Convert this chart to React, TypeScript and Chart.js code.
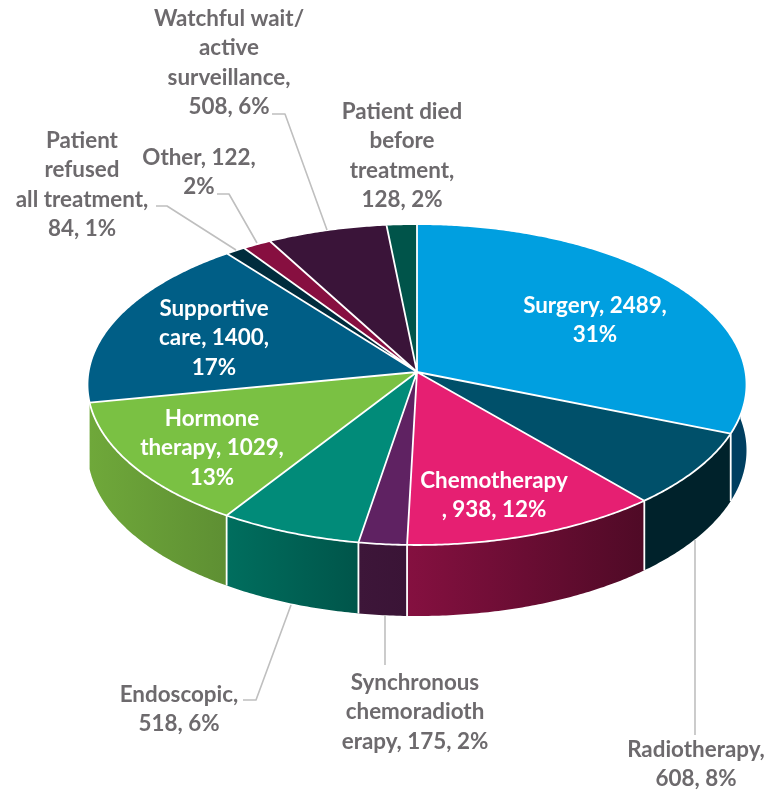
import { useEffect, useRef } from "react";
import { Chart, registerables } from "chart.js";

Chart.register(...registerables);

const categories = ["Surgery", "Radiotherapy", "Chemotherapy", "Synchronous chemoradiotherapy", "Endoscopic", "Hormone therapy", "Supportive care", "Patient refused all treatment", "Other", "Watchful wait/ active surveillance", "Patient died before treatment"];
const values = [2489, 608, 938, 175, 518, 1029, 1400, 84, 122, 508, 128];
const topColors = ["#009fe0", "#00506a", "#e61f72", "#5f2262", "#018b79", "#7ac143", "#005e86", "#002c3d", "#870f40", "#3a1439", "#00544a"];
const wallStart = ["#003f60", "#00222b", "#851040", "#3d1639", "#006e5e", "#6fa83a", "#003a55", "#001a24", "#5a0a2a", "#260d26", "#003a32"];
const wallEnd = ["#003f60", "#00222b", "#4f0a26", "#3a1436", "#00554a", "#5e8f33", "#003a55", "#001a24", "#5a0a2a", "#260d26", "#003a32"];

const labelLines = [
  ["Surgery, 2489,", "31%"],
  ["Radiotherapy,", "608, 8%"],
  ["Chemotherapy", ", 938, 12%"],
  ["Synchronous", "chemoradioth", "erapy, 175, 2%"],
  ["Endoscopic,", "518, 6%"],
  ["Hormone", "therapy, 1029,", "13%"],
  ["Supportive", "care, 1400,", "17%"],
  ["Patient", "refused", "all treatment,", "84, 1%"],
  ["Other, 122,", "2%"],
  ["Watchful wait/", "active", "surveillance,", "508, 6%"],
  ["Patient died", "before", "treatment,", "128, 2%"],
];
const labelX = [595, 696, 494, 415, 179, 212, 214, 82, 199, 229, 402];
const labelY = [306, 750, 481, 683, 695, 419, 309, 141, 158, 19, 112];
const labelColor = ["#ffffff", "#6d6a6d", "#ffffff", "#6d6a6d", "#6d6a6d", "#ffffff", "#ffffff", "#6d6a6d", "#6d6a6d", "#6d6a6d", "#6d6a6d"];
const leaderLines: number[][][] = [
  [[695, 540], [695, 735]],
  [[385, 615], [385, 665]],
  [[243, 700], [256, 700], [291, 605]],
  [[156, 206], [167, 206], [236, 250]],
  [[217, 194], [229, 194], [257, 243]],
  [[272, 114], [285, 114], [327, 230]],
];

const APEX_X = 417;
const APEX_Y = 372;
const RADIUS = 328.5;
const DEPTH = 159.5;
const PERSPECTIVE = 0.078;
const WALL = 65.5;
const LINE_HEIGHT = 29.2;

const persp = (a: number) => 1 / (1 - PERSPECTIVE * Math.sin(a));
const rim = (a: number): [number, number] => {
  const f = persp(a);
  return [APEX_X + RADIUS * Math.cos(a) * f, APEX_Y + DEPTH * Math.sin(a) * f];
};
// the far-left corner of the wall ends where the front-most visible slice starts
const wallVisible = (a: number) => Math.sin(a) > (Math.cos(a) < 0 ? 0.18 : -0.12);

const pie3d = {
  id: "pie3d",
  beforeDatasetDraw(chart: any, args: any) {
    const ctx = chart.ctx as CanvasRenderingContext2D;
    const arcs = args.meta.data as any[];
    const samples = (el: any) => {
      const out: number[] = [];
      const n = Math.max(2, Math.ceil((el.endAngle - el.startAngle) / 0.01));
      for (let i = 0; i <= n; i++) out.push(el.startAngle + ((el.endAngle - el.startAngle) * i) / n);
      return out;
    };

    // walls
    arcs.forEach((el, i) => {
      const pts = samples(el).filter(wallVisible);
      if (pts.length < 2) return;
      const xs = pts.map((a) => rim(a)[0]);
      const g = ctx.createLinearGradient(Math.min(...xs), 0, Math.max(...xs), 0);
      g.addColorStop(0, wallStart[i]);
      g.addColorStop(1, wallEnd[i]);
      ctx.fillStyle = g;
      ctx.beginPath();
      pts.forEach((a, k) => {
        const [x, y] = rim(a);
        if (k === 0) ctx.moveTo(x, y);
        else ctx.lineTo(x, y);
      });
      [...pts].reverse().forEach((a) => {
        const [x, y] = rim(a);
        ctx.lineTo(x, y + WALL * persp(a));
      });
      ctx.closePath();
      ctx.fill();
    });

    // top faces
    arcs.forEach((el, i) => {
      ctx.fillStyle = topColors[i];
      ctx.beginPath();
      ctx.moveTo(APEX_X, APEX_Y);
      samples(el).forEach((a) => {
        const [x, y] = rim(a);
        ctx.lineTo(x, y);
      });
      ctx.closePath();
      ctx.fill();
    });

    // white seams
    ctx.strokeStyle = "#ffffff";
    ctx.lineCap = "butt";
    ctx.lineJoin = "round";
    ctx.lineWidth = 1.8;
    ctx.beginPath();
    arcs.forEach((el) => {
      const [x, y] = rim(el.startAngle);
      ctx.moveTo(APEX_X, APEX_Y);
      ctx.lineTo(x, y);
      if (Math.sin(el.startAngle) > 0 && x > 92) {
        ctx.moveTo(x, y);
        ctx.lineTo(x, y + WALL * persp(el.startAngle));
      }
    });
    for (let k = 0; k <= 720; k++) {
      const a = (k / 720) * Math.PI * 2;
      const [x, y] = rim(a);
      if (k === 0) ctx.moveTo(x, y);
      else ctx.lineTo(x, y);
    }
    ctx.stroke();
    return false;
  },
  afterDatasetsDraw(chart: any) {
    const ctx = chart.ctx as CanvasRenderingContext2D;
    ctx.strokeStyle = "#bfbfbf";
    ctx.lineWidth = 1.6;
    leaderLines.forEach((line) => {
      ctx.beginPath();
      line.forEach(([x, y], k) => (k === 0 ? ctx.moveTo(x, y) : ctx.lineTo(x, y)));
      ctx.stroke();
    });
    ctx.font = 'bold 22.4px Lato, "Noto Sans", sans-serif';
    ctx.textAlign = "center";
    ctx.textBaseline = "middle";
    labelLines.forEach((lines, i) => {
      ctx.fillStyle = labelColor[i];
      lines.forEach((t, k) => ctx.fillText(t, labelX[i], labelY[i] + k * LINE_HEIGHT));
    });
  },
};

export default function App() {
  const ref = useRef<HTMLCanvasElement>(null);
  useEffect(() => {
    document.body.style.margin = "0";
    const chart = new Chart(ref.current!, {
      type: "pie",
      data: {
        labels: categories,
        datasets: [{ data: values, backgroundColor: topColors, borderWidth: 0, radius: RADIUS } as any],
      },
      options: {
        responsive: false,
        animation: false,
        rotation: 0,
        plugins: { legend: { display: false }, tooltip: { enabled: false } },
      },
      plugins: [pie3d],
    } as any);
    return () => chart.destroy();
  }, []);
  return (
    <canvas
      ref={ref}
      width={771}
      height={792}
      style={{ position: "absolute", left: 0, top: 0, width: 771, height: 792, display: "block" }}
    />
  );
}
